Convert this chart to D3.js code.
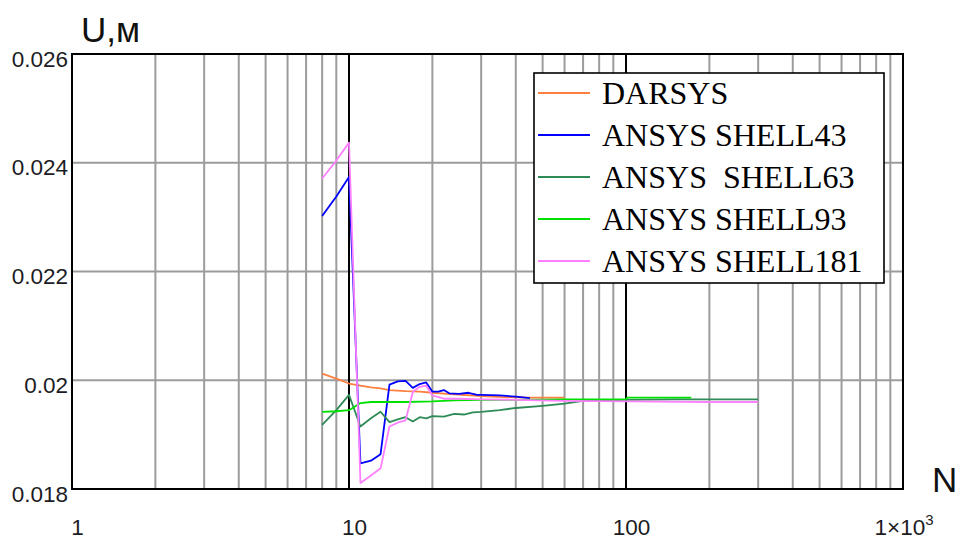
<!DOCTYPE html>
<html>
<head>
<meta charset="utf-8">
<script src="https://cdn.jsdelivr.net/npm/d3@7"></script>
<style>
  html, body { margin: 0; padding: 0; background: #fff; }
  svg { display: block; }
  text { white-space: pre; }
</style>
</head>
<body>
<svg id="chart" width="964" height="540"></svg>
<script>
// Displacement U (m) versus mesh size N, five element formulations
const darsysN = [8, 9, 10, 11, 12, 13, 14, 16, 18, 20, 24, 30, 36, 45, 60];
const darsysU = [0.02012, 0.02003, 0.01994, 0.01990, 0.01987, 0.01985, 0.01982, 0.01980, 0.01979, 0.01977, 0.01974, 0.01971, 0.01969, 0.01968, 0.01968];

const shell43N = [8, 9, 10, 11, 12, 13, 14, 15, 16, 17, 18, 19, 20, 21, 22, 23, 25, 27, 29, 30, 35, 40, 45];
const shell43U = [0.02302, 0.02338, 0.02374, 0.01847, 0.01852, 0.01864, 0.01992, 0.01998, 0.01999, 0.01986, 0.01993, 0.01996, 0.01979, 0.01979, 0.01982, 0.01976, 0.01975, 0.01977, 0.01973, 0.01973, 0.01972, 0.01970, 0.01967];

const shell63N = [8, 9, 10, 11, 12, 13, 14, 15, 16, 17, 18, 19, 20, 22, 24, 26, 28, 30, 35, 40, 50, 60, 70, 100, 150, 200, 300];
const shell63U = [0.01918, 0.01945, 0.01973, 0.01915, 0.01930, 0.01942, 0.01923, 0.01928, 0.01932, 0.01924, 0.01932, 0.01930, 0.01934, 0.01933, 0.01938, 0.01937, 0.01941, 0.01942, 0.01945, 0.01949, 0.01953, 0.01957, 0.01962, 0.01964, 0.01965, 0.01965, 0.01965];

const shell93N = [8, 9, 10, 11, 12, 16, 20, 24, 30, 40, 60, 80, 100, 101, 120, 150, 172];
const shell93U = [0.01942, 0.01943, 0.01945, 0.01958, 0.01960, 0.01960, 0.01961, 0.01963, 0.01964, 0.01964, 0.01965, 0.01965, 0.01965, 0.01968, 0.01968, 0.01968, 0.01968];

const shell181N = [8, 9, 10, 11, 12, 13, 14, 15, 16, 17, 18, 19, 20, 22, 25, 30, 40, 60, 100, 200, 300];
const shell181U = [0.02371, 0.02404, 0.02437, 0.01811, 0.01825, 0.01838, 0.01915, 0.01922, 0.01926, 0.01979, 0.01988, 0.01990, 0.01972, 0.01966, 0.01966, 0.01965, 0.01964, 0.01962, 0.01961, 0.01960, 0.01960];

const seriesNames = ["DARSYS", "ANSYS SHELL43", "ANSYS  SHELL63", "ANSYS SHELL93", "ANSYS SHELL181"];
const seriesColors = ["#ff7f40", "#0000ff", "#2e8b57", "#00e000", "#ff80ff"];

const yTicks = [0.018, 0.02, 0.022, 0.024, 0.026];
const yTickLabels = ["0.018", "0.02", "0.022", "0.024", "0.026"];
const xTicks = [1, 10, 100, 1000];
const xTickLabels = ["1", "10", "100", "1×10|3"];

const series = [
  { name: seriesNames[0], color: seriesColors[0], n: darsysN, u: darsysU },
  { name: seriesNames[1], color: seriesColors[1], n: shell43N, u: shell43U },
  { name: seriesNames[2], color: seriesColors[2], n: shell63N, u: shell63U },
  { name: seriesNames[3], color: seriesColors[3], n: shell93N, u: shell93U },
  { name: seriesNames[4], color: seriesColors[4], n: shell181N, u: shell181U }
];

const svg = d3.select("#chart");
const plotL = 72, plotR = 903, plotT = 54, plotB = 489;

const x = d3.scaleLog().domain([1, 1000]).range([plotL, plotR]);
const y = d3.scaleLinear().domain([0.018, 0.026]).range([plotB, plotT]);

// log grid: minor lines every unit inside each decade, decades in black
const minor = [];
[1, 10, 100].forEach(d => { for (let k = 2; k <= 9; k++) minor.push(d * k); });

const grid = svg.append("g");
grid.selectAll("line.minor").data(minor).enter().append("line")
  .attr("x1", d => x(d)).attr("x2", d => x(d))
  .attr("y1", plotT).attr("y2", plotB)
  .attr("stroke", "#9c9c9c").attr("stroke-width", 2);

grid.selectAll("line.h").data(yTicks.filter(v => v > 0.018 && v < 0.026)).enter().append("line")
  .attr("x1", plotL).attr("x2", plotR)
  .attr("y1", d => y(d)).attr("y2", d => y(d))
  .attr("stroke", "#9c9c9c").attr("stroke-width", 2);

grid.selectAll("line.major").data([10, 100]).enter().append("line")
  .attr("x1", d => x(d)).attr("x2", d => x(d))
  .attr("y1", plotT).attr("y2", plotB)
  .attr("stroke", "#000").attr("stroke-width", 2);

// frame
svg.append("rect")
  .attr("x", plotL).attr("y", plotT)
  .attr("width", plotR - plotL).attr("height", plotB - plotT)
  .attr("fill", "none").attr("stroke", "#000").attr("stroke-width", 2);

// curves
svg.append("clipPath").attr("id", "plotClip").append("rect")
  .attr("x", plotL).attr("y", plotT).attr("width", plotR - plotL).attr("height", plotB - plotT);

const line = d3.line().x(d => x(d[0])).y(d => y(d[1]));
const curves = svg.append("g").attr("clip-path", "url(#plotClip)");
series.forEach(s => {
  curves.append("path")
    .datum(s.n.map((n, i) => [n, s.u[i]]))
    .attr("d", line)
    .attr("fill", "none")
    .attr("stroke", s.color)
    .attr("stroke-width", 1.8)
    .attr("stroke-linejoin", "round");
});

// y tick labels
const tickFont = "'Liberation Sans', Arial, sans-serif";
svg.append("g").selectAll("text").data(yTicks).enter().append("text")
  .attr("x", plotL - 4)
  .attr("y", d => y(d) + 12.5)
  .attr("text-anchor", "end")
  .attr("font-family", tickFont)
  .attr("font-size", 22.5)
  .attr("fill", "#1c1c24")
  .text((d, i) => yTickLabels[i]);

// x tick labels
const xl = svg.append("g");
xTicks.forEach((d, i) => {
  const parts = xTickLabels[i].split("|");
  const t = xl.append("text")
    .attr("x", x(d) + (parts.length > 1 ? 1 : 5.5))
    .attr("y", 535)
    .attr("text-anchor", "middle")
    .attr("font-family", tickFont)
    .attr("font-size", 22.5)
    .attr("fill", "#1c1c24");
  t.append("tspan").text(parts[0]);
  if (parts.length > 1) {
    t.append("tspan").attr("dy", -10).attr("font-size", 15).text(parts[1]);
  }
});

// axis titles
svg.append("text")
  .attr("x", 81).attr("y", 42)
  .attr("font-family", tickFont).attr("font-size", 35)
  .attr("fill", "#111").text("U,м");
svg.append("text")
  .attr("x", 932).attr("y", 492)
  .attr("font-family", tickFont).attr("font-size", 35)
  .attr("fill", "#111").text("N");

// legend
const lg = svg.append("g");
lg.append("rect")
  .attr("x", 534).attr("y", 73).attr("width", 350).attr("height", 210)
  .attr("fill", "#fff").attr("stroke", "#000").attr("stroke-width", 1.6);
series.forEach((s, i) => {
  const ly = 93 + i * 42;
  lg.append("line")
    .attr("x1", 538).attr("x2", 590).attr("y1", ly).attr("y2", ly)
    .attr("stroke", s.color).attr("stroke-width", 1.8);
  lg.append("text")
    .attr("x", 602).attr("y", ly + 10.5)
    .attr("font-family", "'Liberation Serif', 'Times New Roman', serif")
    .attr("font-size", 32)
    .attr("fill", "#000")
    .text(s.name);
});
</script>
</body>
</html>
